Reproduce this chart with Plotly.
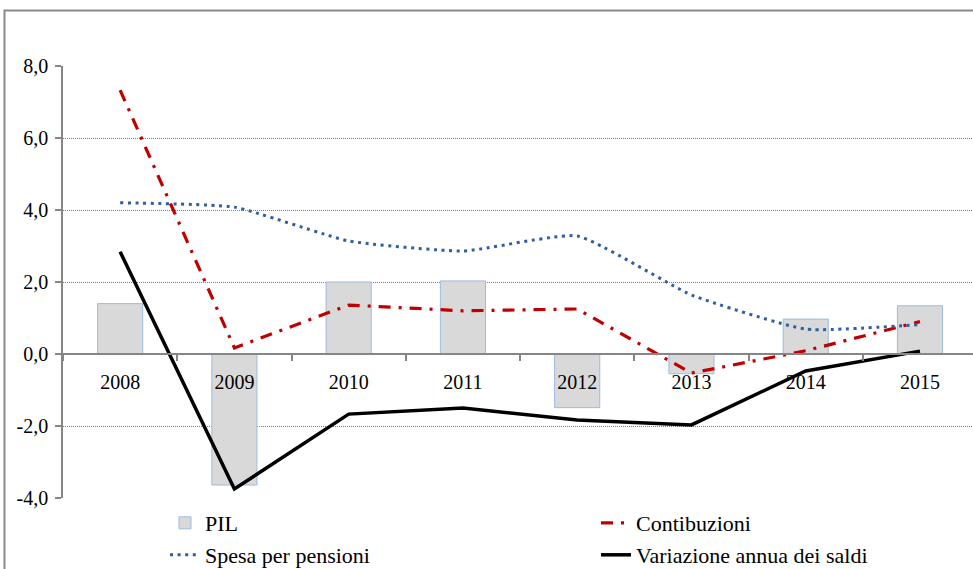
import plotly.graph_objects as go

years = ["2008", "2009", "2010", "2011", "2012", "2013", "2014", "2015"]
pil = [1.4, -3.64, 2.0, 2.03, -1.49, -0.55, 0.97, 1.34]
contribuzioni = [7.33, 0.17, 1.36, 1.2, 1.25, -0.53, 0.09, 0.9]
spesa_pensioni = [4.2, 4.08, 3.14, 2.86, 3.28, 1.64, 0.69, 0.82]
variazione_saldi = [2.84, -3.75, -1.67, -1.5, -1.83, -1.97, -0.47, 0.08]

y_tick_vals = [-4, -2, 0, 2, 4, 6, 8]
y_tick_labels = ["-4,0", "-2,0", "0,0", "2,0", "4,0", "6,0", "8,0"]

FONT = "Liberation Serif"
W, H = 973, 569
ML, MR, MT, MB = 63, 0, 66, 71
PW = W - ML - MR
PH = H - MT - MB


def px_x(p):
    return (p - ML) / PW


def px_y(p):
    return (H - MB - p) / PH


fig = go.Figure()

fig.add_trace(go.Bar(
    x=years, y=pil, name="PIL",
    marker=dict(color="#d9d9d9", line=dict(color="#9dbbe0", width=1)),
    legend="legend",
))
fig.add_trace(go.Scatter(
    x=years, y=contribuzioni, name="Contibuzioni", mode="lines",
    line=dict(color="#c00000", width=3.2, dash="12px,8px,3px,8px"),
    legend="legend",
))
fig.add_trace(go.Scatter(
    x=years, y=spesa_pensioni, name="Spesa per pensioni", mode="lines",
    line=dict(color="#2f5f9e", width=3, dash="3px,4.6px", shape="spline", smoothing=0.45),
    legend="legend2",
))
fig.add_trace(go.Scatter(
    x=years, y=variazione_saldi, name="Variazione annua dei saldi", mode="lines",
    line=dict(color="#000000", width=3.5),
    legend="legend2",
))

axis_gray = "#868686"

fig.update_layout(
    width=W, height=H,
    margin=dict(l=ML, r=MR, t=MT, b=MB, pad=0, autoexpand=False),
    paper_bgcolor="white", plot_bgcolor="white",
    font=dict(family=FONT, size=20, color="black"),
    bargap=0.605,
    showlegend=True,
    xaxis=dict(
        type="category",
        range=[-0.5, 7.464],
        anchor="free", position=4 / 12,
        showline=True, linecolor=axis_gray, linewidth=2,
        ticks="outside", ticklen=6, tickwidth=1.5, tickcolor=axis_gray,
        tickson="boundaries",
        showgrid=False, zeroline=False,
        tickfont=dict(family=FONT, size=20, color="black"),
        ticklabelstandoff=10,
        automargin=False,
    ),
    yaxis=dict(
        range=[-4, 8],
        tickvals=y_tick_vals, ticktext=y_tick_labels,
        showline=True, linecolor=axis_gray, linewidth=1.5,
        ticks="outside", ticklen=6, tickwidth=1.5, tickcolor=axis_gray,
        showgrid=True, gridcolor="#7f7f7f", gridwidth=1, griddash="1px,1px",
        zeroline=False,
        tickfont=dict(family=FONT, size=20, color="black"),
        ticklabelstandoff=3,
        automargin=False,
    ),
    legend=dict(
        orientation="h", x=px_x(165), xanchor="left",
        y=px_y(523), yanchor="middle",
        entrywidth=386, entrywidthmode="pixels",
        font=dict(family=FONT, size=22, color="black"),
        bgcolor="rgba(0,0,0,0)", borderwidth=0,
    ),
    legend2=dict(
        orientation="h", x=px_x(165), xanchor="left",
        y=px_y(555), yanchor="middle",
        entrywidth=386, entrywidthmode="pixels",
        font=dict(family=FONT, size=22, color="black"),
        bgcolor="rgba(0,0,0,0)", borderwidth=0,
    ),
    shapes=[dict(
        type="rect", xref="paper", yref="paper",
        x0=px_x(4.5), x1=px_x(990), y0=px_y(600), y1=px_y(10.5),
        line=dict(color="#8a8a8a", width=2), fillcolor="rgba(0,0,0,0)",
        layer="above",
    )],
)

fig.write_html(
    "out.html",
    config={"displayModeBar": False},
    post_script="document.body.style.margin='0';document.body.style.overflow='hidden';",
)
